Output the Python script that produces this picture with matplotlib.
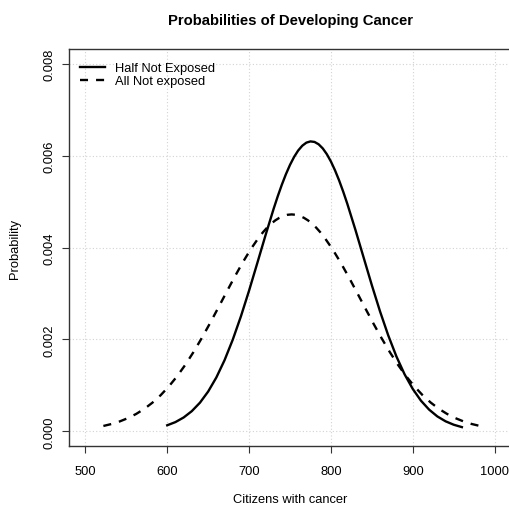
import matplotlib
matplotlib.use("Agg")
import matplotlib.pyplot as plt

plt.rcParams['font.family'] = ['Liberation Sans', 'DejaVu Sans']

# half not exposed (solid curve)
half_x = [600, 610, 620, 630, 640, 650, 660, 670, 680, 690, 700, 710, 720, 730,
          735, 740, 745, 750, 755, 760, 765, 770, 775, 780, 785, 790, 795, 800,
          805, 810, 815, 820, 830, 840, 850, 860, 870, 880, 890, 900, 910, 920,
          930, 940, 950, 960]
half_p = [0.000131, 0.000200, 0.000300, 0.000438, 0.000623, 0.000865, 0.001171,
          0.001546, 0.001991, 0.002500, 0.003062, 0.003658, 0.004261, 0.004842,
          0.005113, 0.005365, 0.005595, 0.005798, 0.005971, 0.006111, 0.006215,
          0.006282, 0.006309, 0.006297, 0.006246, 0.006157, 0.006031, 0.005871,
          0.005679, 0.005460, 0.005216, 0.004952, 0.004380, 0.003779, 0.003179,
          0.002609, 0.002088, 0.001629, 0.001240, 0.000921, 0.000666, 0.000471,
          0.000324, 0.000218, 0.000143, 0.000091]

# all not exposed (dashed curve)
all_x = [522, 532, 542, 552, 562, 572, 582, 592, 602, 612, 622, 632, 642, 652,
         662, 672, 682, 692, 702, 712, 717, 722, 727, 732, 737, 742, 747, 752,
         757, 762, 767, 772, 777, 782, 787, 792, 802, 812, 822, 832, 842, 852,
         862, 872, 882, 892, 902, 912, 922, 932, 942, 952, 962, 972, 982]
all_p = [0.000116, 0.000159, 0.000215, 0.000287, 0.000377, 0.000488, 0.000624,
         0.000786, 0.000977, 0.001196, 0.001445, 0.001722, 0.002023, 0.002343,
         0.002677, 0.003015, 0.003349, 0.003668, 0.003962, 0.004220, 0.004332,
         0.004432, 0.004518, 0.004590, 0.004646, 0.004687, 0.004712, 0.004720,
         0.004712, 0.004687, 0.004646, 0.004590, 0.004518, 0.004432, 0.004332,
         0.004220, 0.003962, 0.003668, 0.003349, 0.003015, 0.002677, 0.002343,
         0.002023, 0.001722, 0.001445, 0.001196, 0.000977, 0.000786, 0.000624,
         0.000488, 0.000377, 0.000287, 0.000215, 0.000159, 0.000116]

x_ticks = [500, 600, 700, 800, 900, 1000]
y_ticks = [0.000, 0.002, 0.004, 0.006, 0.008]
y_tick_labels = ["0.000", "0.002", "0.004", "0.006", "0.008"]

fig = plt.figure(figsize=(5.09, 5.06), dpi=100)
# axes box runs past the right edge of the image, like the original
ax = fig.add_axes([69 / 509, 59 / 506, 442 / 509, 397 / 506])
ax.set_xlim(480, 1020)
ax.set_ylim(-0.00032, 0.00832)

ax.set_xticks(x_ticks)
ax.set_yticks(y_ticks)
ax.set_yticklabels(y_tick_labels)
ax.grid(True, color="lightgray", linestyle=(0, (1, 2)), linewidth=0.8)
ax.set_axisbelow(True)

ax.plot(half_x, half_p, color="black", linewidth=1.7, label="Half Not Exposed")
ax.plot(all_x, all_p, color="black", linewidth=1.7, linestyle=(0, (3.4, 3.4)),
        label="All Not exposed")

for s in ax.spines.values():
    s.set_color("#333333")
    s.set_linewidth(1.0)

ax.tick_params(axis="both", direction="out", length=5, width=0.8,
               color="#333333", labelsize=9.3)
ax.tick_params(axis="x", pad=9)
ax.tick_params(axis="y", pad=5, labelrotation=90)
for lab in ax.get_yticklabels():
    lab.set_verticalalignment("center")

fig.text(290 / 509, 1 - 21 / 506, "Probabilities of Developing Cancer",
         fontsize=10.7, fontweight="bold", ha="center", va="center")
ax.set_xlabel("Citizens with cancer", fontsize=9.3)
ax.xaxis.set_label_coords(0.5, (447 - 500) / 397)
ax.xaxis.label.set_verticalalignment("center")
ax.set_ylabel("Probability", fontsize=9.3)
ax.yaxis.set_label_coords((15 - 69) / 442, 0.5)
ax.yaxis.label.set_verticalalignment("center")

ax.legend(loc="upper left", bbox_to_anchor=(0.025, 0.967), frameon=False,
          fontsize=9.3, handlelength=1.95, handletextpad=0.78,
          borderaxespad=0, borderpad=0, labelspacing=0.1)

fig.savefig("out.png", dpi=100)
